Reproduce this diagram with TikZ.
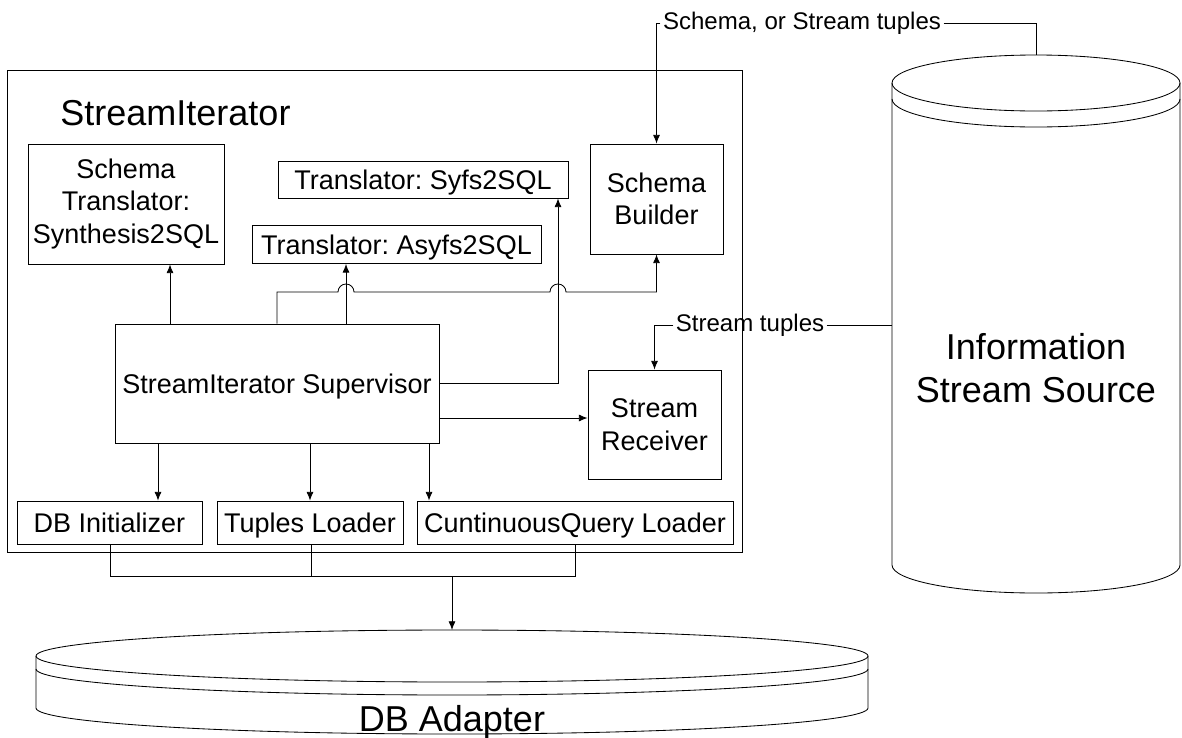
\documentclass[tikz,border=0pt]{standalone}
\usepackage{fontspec}
\setmainfont{Liberation Sans}
\usetikzlibrary{arrows.meta,calc}
\frenchspacing
\newcommand\blkfont{\fontsize{19.2pt}{23.1pt}\selectfont}
\newcommand\tagfont{\fontsize{17.1pt}{20pt}\selectfont}
\newcommand\capfont{\fontsize{25.6pt}{30.6pt}\selectfont}

\begin{document}
\begin{tikzpicture}[
    x=0.025cm, y=-0.025cm,
    line width=0.6pt,
    % define styles
    blk/.style={
        draw,
        align=center,
        inner sep=0pt,
        font=\blkfont
    },
    one/.style={
        text height=13.7pt,
        text depth=0pt
    },
    tag/.style={
        inner sep=1.5pt,
        font=\tagfont
    },
    arr/.style={-{Latex[length=6.2pt,width=5pt]}}
]
\useasboundingbox (0,0) rectangle (1182,737);

% StreamIterator frame
\node[draw, minimum width=18.35cm, minimum height=12.05cm] (si) at (375,311) {};
\node[anchor=base west, inner sep=0pt, font=\capfont] (title) at (60,125) {StreamIterator};

% upper row
\node[blk, minimum width=4.9cm, minimum height=3cm] (st) at (126,204) {Schema\\Translator:\\Synthesis2SQL};
\node[blk, one, minimum width=7.25cm, minimum height=0.925cm] (sy) at (423,179.5) {Translator: Syfs2SQL};
\node[blk, one, minimum width=7.225cm, minimum height=0.95cm] (as) at (396.5,244.5) {Translator: Asyfs2SQL};
\node[blk, minimum width=3.325cm, minimum height=2.75cm] (sb) at (656.5,199) {Schema\\Builder};

% middle
\node[blk, one, minimum width=8.1cm, minimum height=2.975cm] (sup) at (277,383.5) {StreamIterator Supervisor};
\node[blk, minimum width=3.325cm, minimum height=2.725cm] (sr) at (654.5,424.5) {Stream\\Receiver};

% loaders
\node[blk, one, minimum width=4.625cm, minimum height=1.075cm] (dbi) at (109.5,522.5) {DB Initializer};
\node[blk, one, minimum width=4.65cm, minimum height=1.075cm] (tl) at (310,522.5) {Tuples Loader};
\node[blk, one, minimum width=7.9cm, minimum height=1.075cm] (cq) at (575,522.5) {CuntinuousQuery Loader};

% Information Stream Source
\draw (1036,83) ellipse [x radius=144, y radius=28];
\draw (892,99) arc[start angle=180, end angle=0, x radius=144, y radius=28];
\draw (892,83) -- (892,565) arc[start angle=180, end angle=0, x radius=144, y radius=28] -- (1180,83);
\node[align=center, font=\capfont] (iss) at (1036,368) {Information\\Stream Source};
\coordinate (iss top) at (1036,55);
\coordinate (iss west) at (892,325);

% DB Adapter
\draw (452,656) ellipse [x radius=416, y radius=26];
\draw (36,669) arc[start angle=180, end angle=0, x radius=416, y radius=26];
\draw (36,656) -- (36,708) arc[start angle=180, end angle=0, x radius=416, y radius=26] -- (868,656);
\node[anchor=base, inner sep=0pt, font=\capfont] (dba) at (452,731) {DB Adapter};
\coordinate (dba top) at (452,630);

% incoming data
\node[tag] (lab1) at (802,23) {Schema, or Stream tuples};
\draw[arr] (lab1.west) -| (sb.north);
\draw (lab1.east) -| (iss top);
\node[tag] (lab2) at (750,325) {Stream tuples};
\draw[arr] (lab2.west) -| (sr.north);
\draw (lab2.east) -- (iss west);

% supervisor upwards
\draw[arr] (sup.north -| 170,0) -- (st.south -| 170,0);
\draw[arr] (sup.north -| 346,0) -- (as.south -| 346,0);
\draw[arr] (sup.north -| 277,0) -- (277,292) -- (338,292)
    arc[start angle=180, end angle=360, radius=8] -- (550,292)
    arc[start angle=180, end angle=360, radius=8] -- (656.5,292) -- (sb.south);
\draw[arr] (sup.east |- 0,383) -| (sy.south -| 558,0);
\draw[arr] (sup.east |- 0,418) -- (sr.west |- 0,418);

% supervisor downwards
\draw[arr] (sup.south -| 158,0) -- (dbi.north -| 158,0);
\draw[arr] (sup.south -| 310,0) -- (tl.north -| 310,0);
\draw[arr] (sup.south -| 429,0) -- (cq.north -| 429,0);

% loaders to DB Adapter
\draw (dbi.south -| 110,0) -- (110,576) -| (cq.south -| 575,0);
\draw (tl.south -| 311,0) -- (311,576);
\draw[arr] (dba top |- 0,576) -- (dba top);
\end{tikzpicture}
\end{document}
